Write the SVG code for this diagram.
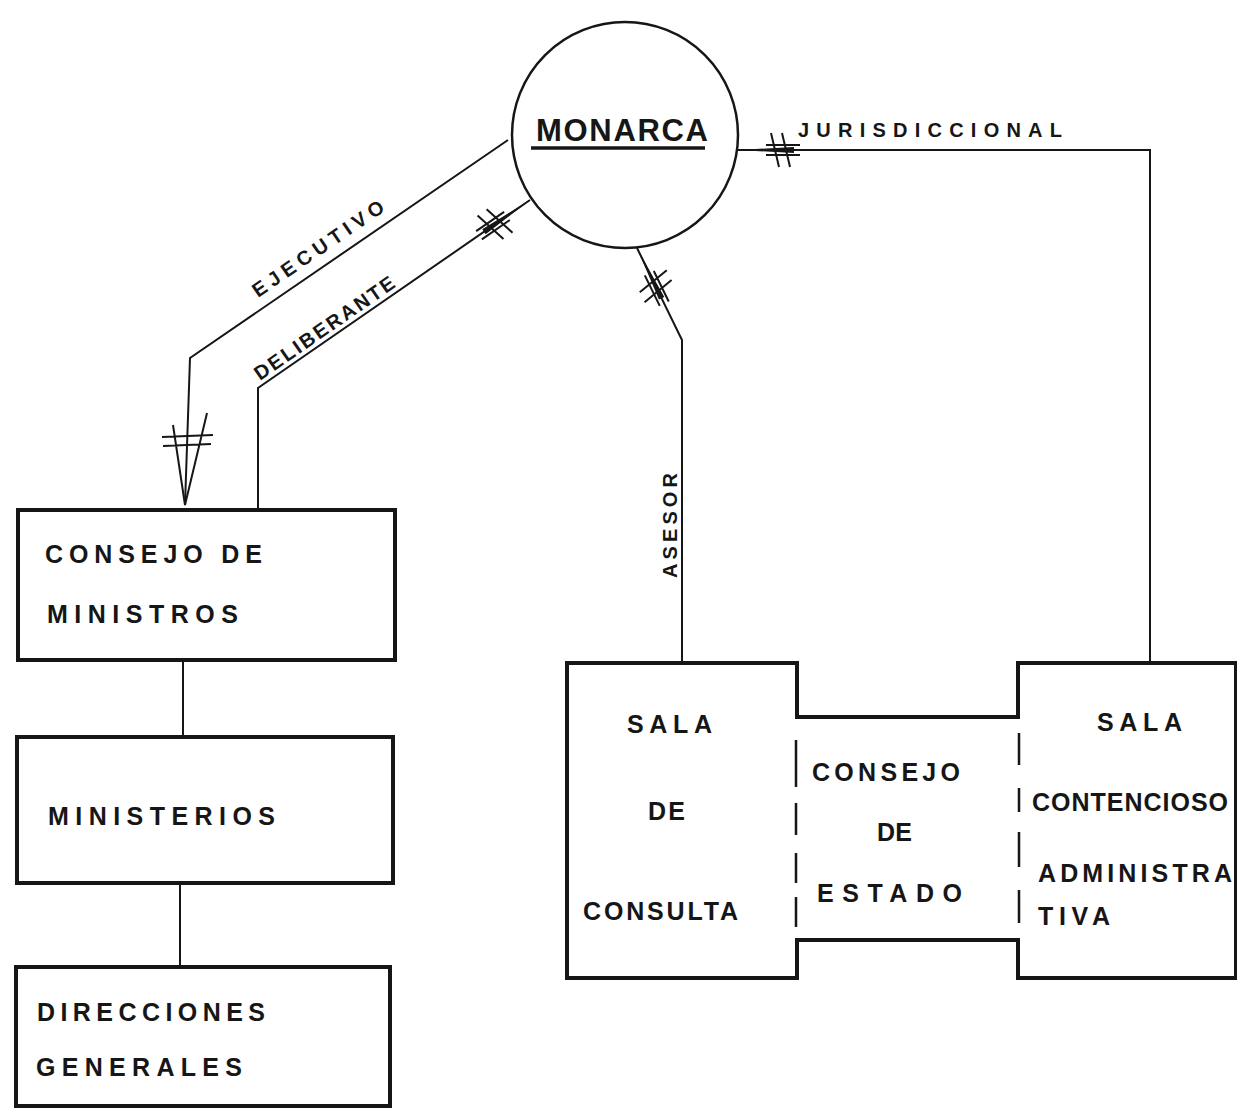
<svg xmlns="http://www.w3.org/2000/svg" width="1237" height="1109" viewBox="0 0 1237 1109">
<defs>
<style>
.box{fill:none;stroke:#161616;stroke-width:4;stroke-linejoin:miter}
.ln{fill:none;stroke:#161616;stroke-width:2}
.dash{stroke:#161616;stroke-width:2.5}
.t{font-family:"Liberation Sans","DejaVu Sans",sans-serif;font-weight:bold;fill:#161616;font-size:25px}
.big{font-size:31px}
.lbl{font-family:"Liberation Sans","DejaVu Sans",sans-serif;font-weight:bold;fill:#161616;font-size:20px}
</style>
<marker id="hash" markerUnits="userSpaceOnUse" viewBox="-70 -22 74 44" markerWidth="74" markerHeight="44" refX="0" refY="0" orient="auto" overflow="visible">
<path d="M0,0 L-56,-3 L-56,3 Z" fill="#161616"/>
<path d="M-52,-17 L-44,17 M-41,-17 L-33,17 M-62,-5 L-28,-5 M-62,5 L-28,5" stroke="#161616" stroke-width="2" fill="none"/>
</marker>
</defs>
<rect width="1237" height="1109" fill="#ffffff"/>

<g id="connectors">
<path class="ln" d="M508,140 L190,358 L185,505"/>
<path class="ln" d="M185,505 L173,425 M185,505 L207,413 M162,437 L213,435 M163,446 L211,444"/>
<path class="ln" d="M258,510 L258,388 L530,200" marker-end="url(#hash)"/>
<path class="ln" d="M682,663 L682,340 L637,248" marker-end="url(#hash)"/>
<path class="ln" d="M1150,663 L1150,150 L738,150" marker-end="url(#hash)"/>
<line class="ln" x1="183" y1="660" x2="183" y2="737"/>
<line class="ln" x1="180" y1="883" x2="180" y2="967"/>
<text class="lbl" transform="translate(258,298) rotate(-34.4)" textLength="155" lengthAdjust="spacing">EJECUTIVO</text>
<text class="lbl" transform="translate(260,381) rotate(-34.7)" textLength="166" lengthAdjust="spacing">DELIBERANTE</text>
<text class="lbl" transform="translate(677,578) rotate(-90)" textLength="105" lengthAdjust="spacing">ASESOR</text>
<text class="lbl" x="798" y="137" textLength="264" lengthAdjust="spacing">JURISDICCIONAL</text>
</g>

<g id="monarca">
<circle cx="625" cy="135" r="113" fill="none" stroke="#161616" stroke-width="2.5"/>
<text class="t big" x="536" y="141" textLength="172" lengthAdjust="spacing">MONARCA</text>
<line x1="531" y1="148" x2="705" y2="148" stroke="#161616" stroke-width="3.5"/>
</g>

<g id="consejo-ministros">
<rect class="box" x="18" y="510" width="377" height="150"/>
<text class="t" x="45" y="563" textLength="217" lengthAdjust="spacing">CONSEJO DE</text>
<text class="t" x="47" y="623" textLength="191" lengthAdjust="spacing">MINISTROS</text>
</g>

<g id="ministerios">
<rect class="box" x="17" y="737" width="376" height="146"/>
<text class="t" x="48" y="825" textLength="227" lengthAdjust="spacing">MINISTERIOS</text>
</g>

<g id="direcciones-generales">
<rect class="box" x="16" y="967" width="374" height="139"/>
<text class="t" x="37" y="1021" textLength="228" lengthAdjust="spacing">DIRECCIONES</text>
<text class="t" x="36" y="1076" textLength="206" lengthAdjust="spacing">GENERALES</text>
</g>

<g id="consejo-estado">
<path class="box" d="M567,663 H797 V717 H1018 V663 H1236 V978 H1018 V940 H797 V978 H567 Z"/>
<path class="dash" d="M796,740 V787 M796,803 V835 M796,853 V883 M796,897 V927"/>
<path class="dash" d="M1019,733 V765 M1019,788 V812 M1019,832 V867 M1019,890 V923"/>
<text class="t" x="627" y="733" textLength="85" lengthAdjust="spacing">SALA</text>
<text class="t" x="648" y="820" textLength="37" lengthAdjust="spacing">DE</text>
<text class="t" x="583" y="920" textLength="155" lengthAdjust="spacing">CONSULTA</text>
<text class="t" x="812" y="781" textLength="148" lengthAdjust="spacing">CONSEJO</text>
<text class="t" x="877" y="841" textLength="35" lengthAdjust="spacing">DE</text>
<text class="t" x="817" y="902" textLength="145" lengthAdjust="spacing">ESTADO</text>
<text class="t" x="1097" y="731" textLength="85" lengthAdjust="spacing">SALA</text>
<text class="t" x="1032" y="811" textLength="196" lengthAdjust="spacing">CONTENCIOSO</text>
<text class="t" x="1038" y="882" textLength="194" lengthAdjust="spacing">ADMINISTRA</text>
<text class="t" x="1038" y="925" textLength="72" lengthAdjust="spacing">TIVA</text>
</g>
</svg>
